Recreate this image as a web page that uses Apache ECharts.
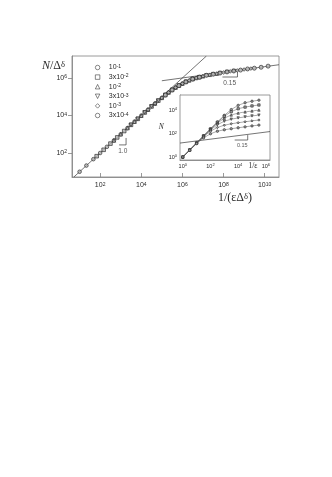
<!DOCTYPE html>
<html>
<head>
<meta charset="utf-8">
<script src="https://cdn.jsdelivr.net/npm/echarts@6/dist/echarts.min.js"></script>
<style>
html, body { margin: 0; padding: 0; background: #fff; }
#chart { width: 332px; height: 477px; }
</style>
</head>
<body>
<div id="chart"></div>
<script>
// Delta values (legend)
var deltaNames = ['1e-1', '3e-2', '1e-2', '3e-3', '1e-3', '3e-4'];
var deltaLabels = ['10{s|-1}', '3x10{s|-2}', '10{s|-2}', '3x10{s|-3}', '10{s|-3}', '3x10{s|-4}'];
var deltaSymbols = ['circle', 'rect', 'triangle', 'path://M0,0L2,0L1,2Z', 'diamond', 'circle'];

// main plot, decade exponents:
// log10(1/(eps*Delta^delta)) and log10(N/Delta^delta)
var mainLogX = [
    [1.00, 1.33, 1.67, 2.00, 2.33, 2.67, 3.00, 3.33, 3.67, 4.00, 4.33, 4.67, 5.00, 5.33, 5.67, 6.00],
    [1.83, 2.17, 2.50, 2.83, 3.17, 3.50, 3.83, 4.17, 4.50, 4.83, 5.17, 5.50, 5.83, 6.17, 6.50, 6.83],
    [2.67, 3.00, 3.33, 3.67, 4.00, 4.33, 4.67, 5.00, 5.33, 5.67, 6.00, 6.33, 6.67, 7.00, 7.33, 7.67],
    [3.50, 3.83, 4.17, 4.50, 4.83, 5.17, 5.50, 5.83, 6.17, 6.50, 6.83, 7.17, 7.50, 7.83, 8.17, 8.50],
    [4.33, 4.67, 5.00, 5.33, 5.67, 6.00, 6.33, 6.67, 7.00, 7.33, 7.67, 8.00, 8.33, 8.67, 9.00, 9.33],
    [5.17, 5.50, 5.83, 6.17, 6.50, 6.83, 7.17, 7.50, 7.83, 8.17, 8.50, 8.83, 9.17, 9.50, 9.83, 10.17]
];
var mainLogY = [
    [1.00, 1.33, 1.67, 2.00, 2.33, 2.67, 3.00, 3.33, 3.67, 3.99, 4.31, 4.64, 4.94, 5.23, 5.49, 5.70],
    [1.83, 2.17, 2.50, 2.83, 3.17, 3.50, 3.82, 4.16, 4.48, 4.79, 5.09, 5.36, 5.59, 5.79, 5.94, 6.04],
    [2.67, 3.00, 3.33, 3.67, 3.99, 4.31, 4.64, 4.94, 5.23, 5.49, 5.70, 5.87, 6.00, 6.09, 6.17, 6.23],
    [3.50, 3.82, 4.16, 4.48, 4.79, 5.09, 5.36, 5.59, 5.79, 5.94, 6.04, 6.14, 6.20, 6.26, 6.32, 6.37],
    [4.31, 4.64, 4.94, 5.23, 5.49, 5.70, 5.87, 6.00, 6.09, 6.17, 6.23, 6.29, 6.35, 6.40, 6.45, 6.50],
    [5.09, 5.36, 5.59, 5.79, 5.94, 6.04, 6.14, 6.20, 6.26, 6.32, 6.37, 6.42, 6.48, 6.52, 6.57, 6.63]
];

// inset: log10(1/eps) and log10(N) for each Delta
var insetLogEps = [0, 0.5, 1.0, 1.5, 2.0, 2.5, 3.0, 3.5, 4.0, 4.5, 5.0, 5.5];
var insetLogN = [
    [0, 0.60, 1.20, 1.80, 2.40, 2.98, 3.55, 4.04, 4.40, 4.62, 4.75, 4.84],
    [0, 0.60, 1.20, 1.80, 2.39, 2.96, 3.47, 3.86, 4.11, 4.25, 4.35, 4.43],
    [0, 0.60, 1.20, 1.79, 2.36, 2.89, 3.31, 3.58, 3.74, 3.84, 3.92, 4.00],
    [0, 0.60, 1.19, 1.77, 2.31, 2.75, 3.05, 3.22, 3.33, 3.42, 3.50, 3.57],
    [0, 0.59, 1.18, 1.73, 2.20, 2.52, 2.71, 2.83, 2.92, 3.00, 3.08, 3.15],
    [0, 0.58, 1.14, 1.63, 1.98, 2.20, 2.32, 2.41, 2.49, 2.57, 2.65, 2.72]
];

// guide lines and slope marks (decade exponents)
var mainSlope1 = [[0.72, 0.72], [7.17, 7.17]];
var mainSlope015 = [[5.0, 5.85], [10.7, 6.705]];
var mainMark1 = [[2.92, 2.43], [3.26, 2.43], [3.26, 2.80]];
var mainMark015 = [[7.95, 6.05], [8.68, 6.05], [8.68, 6.32]];
var mainNotes = [[3.10, 2.08, '1.0'], [8.30, 5.73, '0.15']];
var insetSlope015 = [[-0.2, 1.19], [6.3, 2.17]];
var insetMark015 = [[3.75, 1.45], [4.69, 1.45], [4.69, 1.87]];
var insetNotes = [[4.30, 1.02, '0.15']];

// tick positions
var mainXTicks = [1e2, 1e4, 1e6, 1e8, 1e10];
var mainYTicks = [1e2, 1e4, 1e6];
var insetXTicks = [1e0, 1e2, 1e4, 1e6];
var insetYTicks = [1e0, 1e2, 1e4];

function pw(p) { return [Math.pow(10, p[0]), Math.pow(10, p[1])]; }
function pairs(xs, ys) {
    var out = [];
    for (var i = 0; i < xs.length; i++) out.push(pw([xs[i], ys[i]]));
    return out;
}
function powLabel(v) {
    return '10{s|' + Math.round(Math.log10(v)) + '}';
}

var frame = '#808080';
var ink = '#2a2a2a';
var sans = 'Liberation Sans';
var serif = 'Liberation Serif';

function labelRich(size) {
    return {
        s: { fontSize: size * 0.72, fontFamily: sans, color: ink, verticalAlign: 'top', lineHeight: size * 0.9 }
    };
}

var myChart = echarts.init(document.getElementById('chart'), null, { renderer: 'canvas' });

var series = [];

function guide(data, xi, z) {
    return {
        type: 'line', xAxisIndex: xi, yAxisIndex: xi, data: data.map(pw),
        symbol: 'none', silent: true, z: z, animation: false,
        lineStyle: { color: '#3a3a3a', width: 0.7 }
    };
}
function notes(list, xi, size, z) {
    return {
        type: 'scatter', xAxisIndex: xi, yAxisIndex: xi, silent: true, z: z,
        symbolSize: 1, itemStyle: { color: 'rgba(0,0,0,0)' },
        data: list.map(function (n) { return { value: pw(n), label: { formatter: n[2] } }; }),
        label: { show: true, position: 'inside', fontSize: size, fontFamily: sans, color: ink }
    };
}

series.push(guide(mainSlope1, 0, 1));
series.push(guide(mainSlope015, 0, 1));
series.push(guide(mainMark1, 0, 1));
series.push(guide(mainMark015, 0, 1));
series.push(notes(mainNotes, 0, 6.5, 2));

for (var i = 0; i < deltaNames.length; i++) {
    series.push({
        name: deltaNames[i],
        type: 'scatter',
        xAxisIndex: 0, yAxisIndex: 0,
        symbol: deltaSymbols[i],
        symbolSize: i === 5 ? 4 : 3.6,
        z: 3,
        itemStyle: { color: '#b8b8b8', borderColor: ink, borderWidth: 0.85 },
        data: pairs(mainLogX[i], mainLogY[i])
    });
}

series.push(guide(insetSlope015, 1, 6));
series.push(guide(insetMark015, 1, 6));
series.push(notes(insetNotes, 1, 5.5, 7));
for (var k = 0; k < deltaNames.length; k++) {
    series.push({
        name: 'inset ' + deltaNames[k],
        type: 'line',
        xAxisIndex: 1, yAxisIndex: 1,
        symbol: deltaSymbols[k],
        symbolSize: 2.4,
        showAllSymbol: true,
        z: 7,
        lineStyle: { color: '#555', width: 0.5 },
        itemStyle: { color: '#999', borderColor: ink, borderWidth: 0.6 },
        data: pairs(insetLogEps, insetLogN[k])
    });
}

myChart.setOption({
    backgroundColor: '#fff',
    animation: false,
    legend: {
        data: deltaNames.map(function (n, i) { return { name: n, icon: deltaSymbols[i] }; }),
        orient: 'vertical',
        left: 90, top: 59,
        itemWidth: 4.5, itemHeight: 4.5, itemGap: 2.6,
        itemStyle: { color: '#fff', borderColor: ink, borderWidth: 0.7 },
        formatter: function (name) { return deltaLabels[deltaNames.indexOf(name)]; },
        textStyle: { fontSize: 7, fontFamily: sans, color: ink, padding: [0, 0, 0, 4], rich: labelRich(7) }
    },
    grid: [
        { left: 72, top: 56, width: 207, height: 121, show: true, borderColor: frame, borderWidth: 0.8, backgroundColor: 'transparent' },
        { left: 180, top: 95, width: 90, height: 65, show: true, borderColor: frame, borderWidth: 0.8, backgroundColor: '#fff', z: 4 }
    ],
    xAxis: [
        {
            type: 'log', logBase: 10, gridIndex: 0,
            min: Math.pow(10, 0.63), max: Math.pow(10, 10.7),
            axisLine: { lineStyle: { color: frame, width: 0.8 } },
            axisTick: { inside: true, length: 4, customValues: mainXTicks, lineStyle: { color: frame, width: 0.8 } },
            minorTick: { show: false },
            splitLine: { show: false },
            axisLabel: { customValues: mainXTicks, formatter: powLabel, margin: 5, fontSize: 7, fontFamily: sans, color: ink, rich: labelRich(7) },
            name: '1/(\u03b5\u0394{s|\u03b4})',
            nameLocation: 'end', nameGap: -44,
            nameTextStyle: {
                fontSize: 12, fontFamily: serif, color: ink, align: 'center', verticalAlign: 'top', padding: [15, 0, 0, 0],
                rich: { s: { fontSize: 8.5, fontFamily: serif, color: ink, verticalAlign: 'top', lineHeight: 10 } }
            }
        },
        {
            type: 'log', logBase: 10, gridIndex: 1,
            min: Math.pow(10, -0.2), max: Math.pow(10, 6.3),
            axisLine: { lineStyle: { color: frame, width: 0.8 } },
            axisTick: { inside: true, length: 2.5, customValues: insetXTicks, lineStyle: { color: frame, width: 0.7 } },
            splitLine: { show: false },
            axisLabel: { customValues: insetXTicks, formatter: powLabel, margin: 3, fontSize: 5.5, fontFamily: sans, color: ink, rich: labelRich(5.5) },
            name: '1/\u03b5',
            nameLocation: 'end', nameGap: -17,
            nameTextStyle: { fontSize: 7.5, fontFamily: serif, color: ink, align: 'center', verticalAlign: 'top', padding: [2, 0, 0, 0] }
        }
    ],
    yAxis: [
        {
            type: 'log', logBase: 10, gridIndex: 0,
            min: Math.pow(10, 0.72), max: Math.pow(10, 7.17),
            axisLine: { lineStyle: { color: frame, width: 0.8 } },
            axisTick: { inside: false, length: 4, customValues: mainYTicks, lineStyle: { color: frame, width: 0.8 } },
            splitLine: { show: false },
            axisLabel: { customValues: mainYTicks, formatter: powLabel, margin: 5, fontSize: 7, fontFamily: sans, color: ink, rich: labelRich(7) },
            name: '{i|N}/\u0394{s|\u03b4}',
            nameLocation: 'end', nameGap: -10,
            nameTextStyle: {
                fontSize: 12, fontFamily: serif, color: ink, align: 'right', verticalAlign: 'middle', padding: [0, 7, 0, 0],
                rich: {
                    i: { fontSize: 12, fontFamily: serif, fontStyle: 'italic', color: ink },
                    s: { fontSize: 8.5, fontFamily: serif, color: ink, verticalAlign: 'top', lineHeight: 10 }
                }
            }
        },
        {
            type: 'log', logBase: 10, gridIndex: 1,
            min: Math.pow(10, -0.25), max: Math.pow(10, 5.28),
            axisLine: { lineStyle: { color: frame, width: 0.8 } },
            axisTick: { inside: true, length: 2.5, customValues: insetYTicks, lineStyle: { color: frame, width: 0.7 } },
            splitLine: { show: false },
            axisLabel: { customValues: insetYTicks, formatter: powLabel, margin: 3, fontSize: 5.5, fontFamily: sans, color: ink, rich: labelRich(5.5) },
            name: 'N',
            nameLocation: 'middle', nameGap: 11, nameRotate: 0,
            nameTextStyle: { fontSize: 7.5, fontFamily: serif, fontStyle: 'italic', color: ink }
        }
    ],
    series: series
});
</script>
</body>
</html>
